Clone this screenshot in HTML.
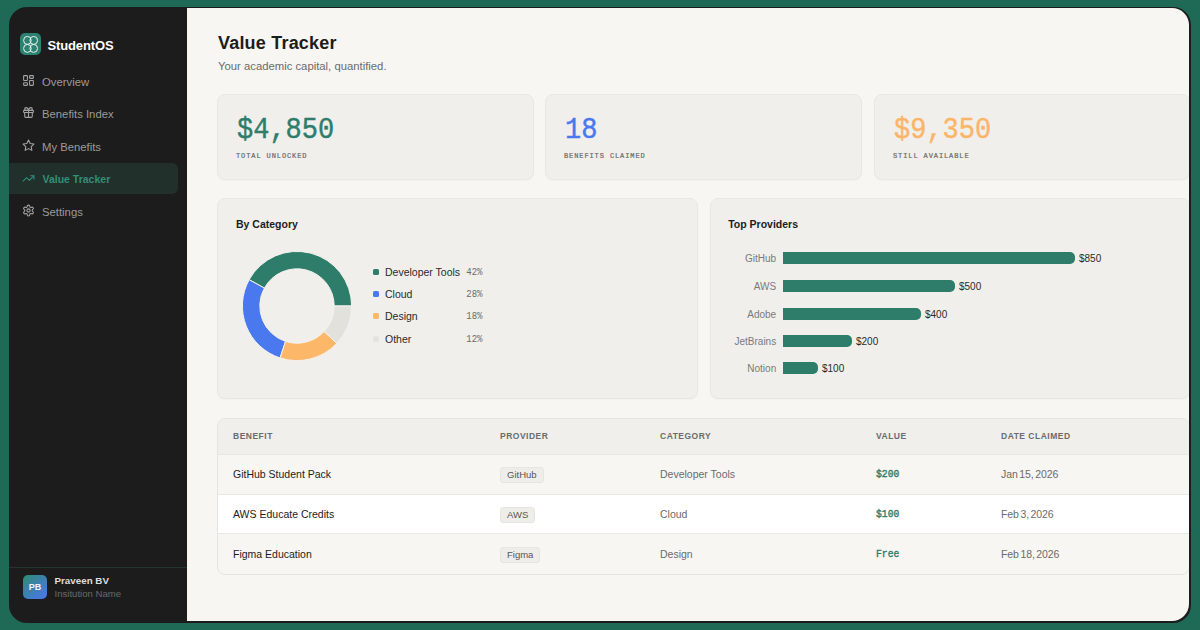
<!DOCTYPE html>
<html lang="en">
<head>
<meta charset="utf-8">
<title>Value Tracker – StudentOS</title>
<style>
*{box-sizing:border-box;margin:0;padding:0}
html,body{width:1200px;height:630px;overflow:hidden}
body{background:#1f6a56;font-family:"Liberation Sans",sans-serif;position:relative;color:#1c1c1c}
.frame{position:absolute;left:9px;top:7px;width:1182px;height:616px;background:#1c1c1c;border-radius:18px;overflow:hidden}
.side{position:absolute;left:0;top:0;width:178px;height:616px;color:#9a9a9a}
.logo{position:absolute;left:11px;top:26px;width:21px;height:22px;border-radius:5px;background:#2b8270}
.logo svg{position:absolute;left:0;top:0}
.brand{position:absolute;left:38.4px;top:31px;font-size:13px;font-weight:700;color:#fff;letter-spacing:-.1px;line-height:15px}
.nav{position:absolute;left:0;width:169px;height:31px;font-size:11.3px;line-height:34.4px;padding-left:33px;color:#9b9b9b;border-radius:0 6px 6px 0}
.nav svg{position:absolute;left:13.1px;top:9.4px;width:13px;height:13px;stroke:#a3a3a3;fill:none;stroke-width:2;stroke-linecap:round;stroke-linejoin:round}
.nav.on{background:#22302b;color:#2f8f78;font-weight:700;font-size:10.5px;line-height:32.6px;padding-left:33.5px}
.nav.on svg{stroke:#2f8f78}
.user{position:absolute;left:0;top:560px;width:178px;height:55px;border-top:1px solid #243430}
.av{position:absolute;left:14px;top:7px;width:24px;height:24px;border-radius:5px;background:linear-gradient(140deg,#2f8a75 5%,#4a78ee 95%);color:#f4f4f4;font-size:9px;font-weight:700;text-align:center;line-height:25px;letter-spacing:0}
.un{position:absolute;left:45.5px;top:7.4px;font-size:9.8px;font-weight:700;color:#dedede;line-height:12px}
.ui{position:absolute;left:45.5px;top:20.2px;font-size:9.6px;color:#6a6a6a;line-height:11px}
.main{position:absolute;left:178px;top:1px;width:1002px;height:613px;background:#f7f6f2;border-radius:0 17px 17px 0;overflow:hidden}
h1{position:absolute;left:31px;top:24px;font-size:18px;font-weight:700;line-height:22px;color:#1c1c1c;letter-spacing:.2px}
.sub{position:absolute;left:31px;top:52px;font-size:11.3px;color:#6b6b6b;line-height:13px}
.card{position:absolute;background:#f1efeb;border:1px solid #e9e7e3;border-radius:8px;box-shadow:0 1px 2px rgba(0,0,0,.025)}
.big{position:absolute;left:19px;top:19.4px;font-family:"Liberation Mono",monospace;font-size:27px;line-height:32px;letter-spacing:0;transform:scaleY(1.09);transform-origin:0 8px;-webkit-text-stroke:.4px currentColor}
.lbl{position:absolute;left:18px;top:56px;transform:scaleY(1.12);transform-origin:0 0;-webkit-text-stroke:.2px currentColor;font-family:"Liberation Mono",monospace;font-size:7px;letter-spacing:.9px;color:#6b6b6b;line-height:9px}
.ct{position:absolute;left:17.2px;top:19px;font-size:10.5px;font-weight:700;color:#1c1c1c;line-height:13px}

.leg{position:absolute;left:155px;font-size:10.5px;color:#2a2a2a;line-height:13px;width:120px}
.leg i{position:absolute;left:0;top:3.3px;width:6px;height:6px;border-radius:1.5px}
.leg span{position:absolute;left:12px;top:0;white-space:nowrap}
.leg b{position:absolute;left:93.3px;top:1.4px;font-family:"Liberation Mono",monospace;font-size:9px;font-weight:400;color:#6b6b6b;transform:scaleY(1.12);transform-origin:0 9px}
.bl{position:absolute;left:0;width:65.2px;text-align:right;font-size:10px;color:#7a7a7a;line-height:14.4px}
.bar{position:absolute;left:72px;height:12px;background:#2e7d6b;border-radius:0 5px 5px 0}
.bv{position:absolute;font-size:10px;color:#2a2a2a;line-height:14.4px}
.tbl{position:absolute;left:30px;top:410px;width:973px;height:157px;border:1px solid #e6e4df;border-radius:8px;overflow:hidden;background:#f7f6f2}
.th{position:absolute;left:0;top:0;width:100%;height:36px;background:#f1efeb;border-bottom:1px solid #e9e7e2}
.th span{position:absolute;top:12px;font-size:8.5px;font-weight:700;letter-spacing:.5px;color:#6b6b6b;line-height:11px}
.tr{position:absolute;left:0;width:100%;height:40px;border-bottom:1px solid #e9e7e2}
.tr span{position:absolute;top:13.4px;font-size:10.5px;line-height:13px;white-space:nowrap}
.c1{left:15px;color:#1c1c1c}.c2{left:282px}.c3{left:442px;color:#6b6b6b}.c4{left:658px}.c5{left:783px;color:#6b6b6b}
.tr .c4{font-family:"Liberation Mono",monospace;font-size:9.7px;font-weight:400;color:#2e7d6b;-webkit-text-stroke:.35px #2e7d6b;transform:scaleY(1.12);transform-origin:0 8px}
.tr .c5{word-spacing:-1.2px;letter-spacing:-.1px}
.tr .c2{top:12.4px;font-size:9.5px;color:#555;background:#efede9;border:1px solid #e7e5e0;border-radius:3px;padding:1px 6px 1px 6px;line-height:12px}
.r3 span{margin-top:.6px}
</style>
</head>
<body>
<div class="frame">
  <div class="side">
    <div class="logo"><svg width="21" height="22" viewBox="0 0 21 22" fill="none" stroke="#eef3f1" stroke-width="1"><ellipse cx="7.4" cy="7.4" rx="3.8" ry="4"/><ellipse cx="13.7" cy="7.4" rx="3.8" ry="4"/><ellipse cx="7.4" cy="15.4" rx="3.8" ry="4"/><ellipse cx="13.7" cy="15.4" rx="3.8" ry="4"/></svg></div>
    <div class="brand">StudentOS</div>
    <div class="nav" style="top:58px"><svg viewBox="0 0 24 24"><rect width="7" height="9" x="3" y="3" rx="1"/><rect width="7" height="5" x="14" y="3" rx="1"/><rect width="7" height="9" x="14" y="12" rx="1"/><rect width="7" height="5" x="3" y="16" rx="1"/></svg>Overview</div>
    <div class="nav" style="top:90px"><svg viewBox="0 0 24 24"><rect x="3" y="8" width="18" height="4" rx="1"/><path d="M12 8v13"/><path d="M19 12v7a2 2 0 0 1-2 2H7a2 2 0 0 1-2-2v-7"/><path d="M7.5 8a2.5 2.5 0 0 1 0-5A4.8 8 0 0 1 12 8a4.8 8 0 0 1 4.5-5 2.5 2.5 0 0 1 0 5"/></svg>Benefits Index</div>
    <div class="nav" style="top:123px"><svg viewBox="0 0 24 24"><polygon points="12 2 15.09 8.26 22 9.27 17 14.14 18.18 21.02 12 17.77 5.82 21.02 7 14.14 2 9.27 8.91 8.26 12 2"/></svg>My Benefits</div>
    <div class="nav on" style="top:156px"><svg viewBox="0 0 24 24"><polyline points="22 7 13.5 15.5 8.5 10.5 2 17"/><polyline points="16 7 22 7 22 13"/></svg>Value Tracker</div>
    <div class="nav" style="top:188px"><svg viewBox="0 0 24 24"><path d="M12.22 2h-.44a2 2 0 0 0-2 2v.18a2 2 0 0 1-1 1.73l-.43.25a2 2 0 0 1-2 0l-.15-.08a2 2 0 0 0-2.73.73l-.22.38a2 2 0 0 0 .73 2.73l.15.1a2 2 0 0 1 1 1.72v.51a2 2 0 0 1-1 1.74l-.15.09a2 2 0 0 0-.73 2.73l.22.38a2 2 0 0 0 2.73.73l.15-.08a2 2 0 0 1 2 0l.43.25a2 2 0 0 1 1 1.73V20a2 2 0 0 0 2 2h.44a2 2 0 0 0 2-2v-.18a2 2 0 0 1 1-1.73l.43-.25a2 2 0 0 1 2 0l.15.08a2 2 0 0 0 2.73-.73l.22-.39a2 2 0 0 0-.73-2.73l-.15-.08a2 2 0 0 1-1-1.74v-.5a2 2 0 0 1 1-1.74l.15-.09a2 2 0 0 0 .73-2.73l-.22-.38a2 2 0 0 0-2.73-.73l-.15.08a2 2 0 0 1-2 0l-.43-.25a2 2 0 0 1-1-1.73V4a2 2 0 0 0-2-2z"/><circle cx="12" cy="12" r="3"/></svg>Settings</div>
    <div class="user"><div class="av">PB</div><div class="un">Praveen BV</div><div class="ui">Insitution Name</div></div>
  </div>
  <div class="main">
    <h1>Value Tracker</h1>
    <div class="sub">Your academic capital, quantified.</div>
    <div class="card" style="left:30px;top:86px;width:317px;height:86px"><div class="big" style="color:#2e7d6b;left:19px">$4,850</div><div class="lbl" style="left:18px">TOTAL UNLOCKED</div></div>
    <div class="card" style="left:358px;top:86px;width:317px;height:86px"><div class="big" style="color:#4a78ee">18</div><div class="lbl">BENEFITS CLAIMED</div></div>
    <div class="card" style="left:687px;top:86px;width:316px;height:86px"><div class="big" style="color:#fbb56a">$9,350</div><div class="lbl">STILL AVAILABLE</div></div>

    <div class="card" style="left:30px;top:190px;width:481px;height:201px">
      <div class="ct" style="left:18px">By Category</div>
      <svg style="position:absolute;left:22.8px;top:51px" width="112" height="112" viewBox="-56 -56 112 112">
        <g stroke="#f4f2ee" stroke-width="1" stroke-linejoin="round">
<path d="M54.60 -0.00A54.6 54.6 0 0 0 -47.85 -26.30L-32.60 -17.92A37.2 37.2 0 0 1 37.20 -0.00Z" fill="#2e7d6b"/>
<path d="M-47.85 -26.30A54.6 54.6 0 0 0 -16.87 51.93L-11.50 35.38A37.2 37.2 0 0 1 -32.60 -17.92Z" fill="#4a78ee"/>
<path d="M-16.87 51.93A54.6 54.6 0 0 0 39.80 37.38L27.12 25.47A37.2 37.2 0 0 1 -11.50 35.38Z" fill="#fdb768"/>
<path d="M39.80 37.38A54.6 54.6 0 0 0 54.60 0.00L37.20 0.00A37.2 37.2 0 0 1 27.12 25.47Z" fill="#e3e1dc"/>
        </g>
      </svg>
      <div class="leg" style="top:67px"><i style="background:#2e7d6b"></i><span>Developer Tools</span><b>42%</b></div>
      <div class="leg" style="top:89px"><i style="background:#4a78ee"></i><span>Cloud</span><b>28%</b></div>
      <div class="leg" style="top:111px"><i style="background:#fdb768"></i><span>Design</span><b>18%</b></div>
      <div class="leg" style="top:134px"><i style="background:#e6e4df"></i><span>Other</span><b>12%</b></div>
    </div>
    <div class="card" style="left:523px;top:190px;width:480px;height:201px">
      <div class="ct">Top Providers</div>
      <div class="bl" style="top:53px">GitHub</div><div class="bar" style="top:53px;width:292px"></div><div class="bv" style="left:368px;top:53px">$850</div>
      <div class="bl" style="top:81px">AWS</div><div class="bar" style="top:81px;width:172px"></div><div class="bv" style="left:248px;top:81px">$500</div>
      <div class="bl" style="top:109px">Adobe</div><div class="bar" style="top:109px;width:138px"></div><div class="bv" style="left:214px;top:109px">$400</div>
      <div class="bl" style="top:136px">JetBrains</div><div class="bar" style="top:136px;width:69px"></div><div class="bv" style="left:145px;top:136px">$200</div>
      <div class="bl" style="top:163px">Notion</div><div class="bar" style="top:163px;width:35px"></div><div class="bv" style="left:111px;top:163px">$100</div>
    </div>
    <div class="tbl">
      <div class="th"><span class="c1">BENEFIT</span><span class="c2">PROVIDER</span><span class="c3">CATEGORY</span><span class="c4">VALUE</span><span class="c5">DATE CLAIMED</span></div>
      <div class="tr" style="top:36px"><span class="c1">GitHub Student Pack</span><span class="c2">GitHub</span><span class="c3">Developer Tools</span><span class="c4">$200</span><span class="c5">Jan 15, 2026</span></div>
      <div class="tr" style="top:76px;height:39px;background:#fff"><span class="c1">AWS Educate Credits</span><span class="c2">AWS</span><span class="c3">Cloud</span><span class="c4">$100</span><span class="c5">Feb 3, 2026</span></div>
      <div class="tr r3" style="top:115px;border-bottom:0"><span class="c1">Figma Education</span><span class="c2">Figma</span><span class="c3">Design</span><span class="c4">Free</span><span class="c5">Feb 18, 2026</span></div>
    </div>
  </div>
</div>
</body>
</html>
